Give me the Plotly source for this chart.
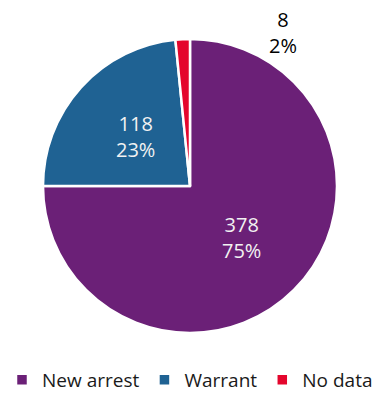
import math
import plotly.graph_objects as go

labels = ["New arrest", "Warrant", "No data"]
values = [378, 118, 8]
colors = ["#6B2077", "#1F6293", "#E4062D"]

total = sum(values)
pcts = [round(v / total * 100) for v in values]
texts = [f"{v}<br>{p}%" for v, p in zip(values, pcts)]

FONT = "Open Sans"
W, H = 381, 395
ML, MR, MT, MB = 0, 1, 39, 62
PW, PH = W - ML - MR, H - MT - MB
R = min(PW, PH) / 2

fig = go.Figure(go.Pie(
    labels=labels,
    values=values,
    textinfo="none",
    marker=dict(colors=colors, line=dict(color="white", width=2.5)),
    sort=False,
    direction="clockwise",
    rotation=0,
    showlegend=True,
    hoverinfo="label+value+percent",
    domain=dict(x=[0, 1], y=[0, 1]),
))

# data labels at half radius along each slice's mid angle (first two slices)
cum = 0
for i, v in enumerate(values):
    mid = 2 * math.pi * (cum + v / 2) / total
    cum += v
    if i >= 2:
        continue
    dx = 0.5 * R * math.sin(mid)
    dy = 0.5 * R * math.cos(mid)
    fig.add_annotation(
        x=0.5 + dx / PW, y=0.5 + dy / PH, xref="paper", yref="paper",
        xanchor="center", yanchor="middle",
        text=texts[i], showarrow=False,
        font=dict(size=20, color="#F2F2F2", family=FONT),
        align="center",
    )

# outside label for the small slice
fig.add_annotation(
    x=283 / PW, y=(MT + PH - 33) / PH, xref="paper", yref="paper",
    xanchor="center", yanchor="middle",
    text=texts[2], showarrow=False,
    font=dict(size=20, color="black", family=FONT),
    align="center",
)

fig.update_layout(
    width=W, height=H,
    margin=dict(l=ML, r=MR, t=MT, b=MB, autoexpand=False),
    paper_bgcolor="white",
    plot_bgcolor="white",
    font=dict(family=FONT, size=18, color="black"),
    legend=dict(
        orientation="h", x=0.5, xanchor="center",
        y=-(MB + 4) / PH, yanchor="bottom",
        font=dict(size=19, family=FONT, color="#1a1a1a"),
        traceorder="normal",
    ),
)

fig.write_html(
    "out.html",
    config={"displayModeBar": False},
    post_script="document.body.style.margin='0';document.body.style.overflow='hidden';",
)
